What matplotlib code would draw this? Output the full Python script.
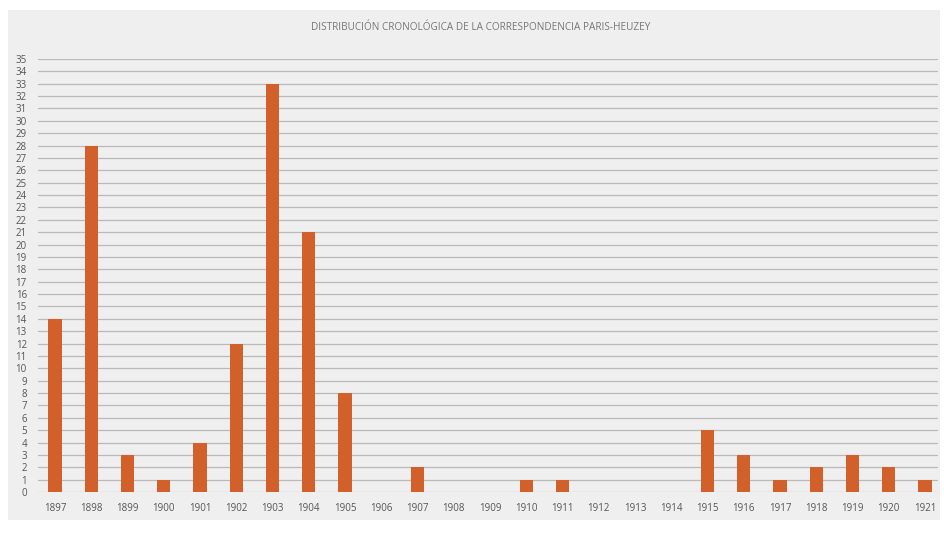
import matplotlib
matplotlib.use('Agg')
import matplotlib.pyplot as plt

years = ['1897', '1898', '1899', '1900', '1901', '1902', '1903', '1904', '1905', '1906',
         '1907', '1908', '1909', '1910', '1911', '1912', '1913', '1914', '1915', '1916',
         '1917', '1918', '1919', '1920', '1921']
letters = [14, 28, 3, 1, 4, 12, 33, 21, 8, 0,
           2, 0, 0, 1, 1, 0, 0, 0, 5, 3,
           1, 2, 3, 2, 1]
title = 'DISTRIBUCIÓN CRONOLÓGICA DE LA CORRESPONDENCIA PARIS-HEUZEY'

plt.rcParams['font.family'] = ['Liberation Sans Narrow', 'Open Sans', 'DejaVu Sans']

fig = plt.figure(figsize=(9.45, 5.34), dpi=100)
fig.patch.set_facecolor('white')

# light grey panel behind everything
bg = fig.add_axes([8 / 945, 14 / 534, 932 / 945, 510 / 534], zorder=0)
bg.set_facecolor('#efefef')
bg.set_xticks([])
bg.set_yticks([])
for s in bg.spines.values():
    s.set_visible(False)

ax = fig.add_axes([38 / 945, 42 / 534, 900 / 945, 433 / 534], zorder=1)
ax.set_facecolor('none')

x = range(len(years))
ax.bar(x, letters, width=0.37, color='#d1602a', zorder=3)

ax.set_xlim(-0.47, 24.36)
ax.set_ylim(0, 35)
ax.set_yticks(range(0, 36))
ax.set_xticks(list(x))
ax.set_xticklabels(years)
ax.tick_params(axis='both', length=0, labelsize=7, labelcolor='#555555')
ax.tick_params(axis='x', pad=8)
ax.tick_params(axis='y', pad=8)
ax.yaxis.grid(True, color='#b9b9b9', linewidth=0.9, zorder=0)
for s in ax.spines.values():
    s.set_visible(False)

fig.text(481 / 945, 1 - 27 / 534, title, ha='center', va='center',
         fontsize=7.2, color='#777777', family=['Open Sans', 'DejaVu Sans'])

fig.savefig('out.png', dpi=100, facecolor=fig.get_facecolor())
